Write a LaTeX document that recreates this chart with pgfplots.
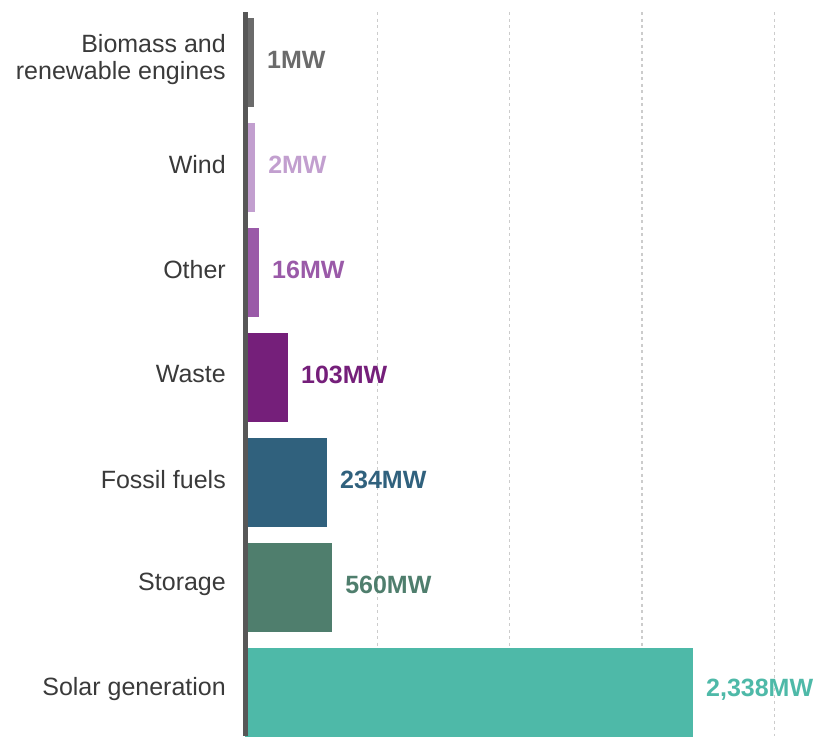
\documentclass[border=0pt]{standalone}
\usepackage{pgfplots}
\pgfplotsset{compat=1.18}
\usepackage{fontspec}
\setmainfont{Liberation Sans}
\definecolor{cbio}{HTML}{6B6B6B}
\definecolor{cwind}{HTML}{C29FCF}
\definecolor{cother}{HTML}{9A5AA8}
\definecolor{cwaste}{HTML}{751F7A}
\definecolor{cfossil}{HTML}{30617D}
\definecolor{cstor}{HTML}{4F7E6D}
\definecolor{csolar}{HTML}{4EB9A8}
\definecolor{caxis}{HTML}{575757}
\definecolor{cgrid}{HTML}{CCCCCC}
\definecolor{ctext}{HTML}{3A3A3A}
\begin{document}
\begin{tikzpicture}
\begin{axis}[
  name=ax,
  x=132.3pt, y=105pt,
  y dir=reverse,
  xmin=0, xmax=4.331,
  ymin=-0.481, ymax=6.414,
  axis line style={draw=none},
  xbar, bar width=89pt, bar shift=0pt,
  xtick={1,2,3,4},
  xticklabels={},
  xmajorgrids,
  major grid style={cgrid, line width=1.3pt, dash pattern=on 3pt off 3.5pt},
  ytick={0,1,2,3,4,5,6},
  yticklabels={{Biomass and\\renewable engines},Wind,Other,Waste,Fossil fuels,Storage,Solar generation},
  yticklabel style={inner sep=0pt, xshift=-19pt, yshift=3pt, align=right, text=ctext,
    font=\fontsize{25}{27}\selectfont},
  major tick length=0pt,
  tick style={draw=none},
  point meta=explicit symbolic,
  nodes near coords,
  nodes near coords style={anchor=west, inner sep=0pt, xshift=13pt, yshift=3pt,
    font=\fontsize{25}{28}\selectfont\bfseries},
  clip=false,
]
\addplot[fill=cbio, draw=none, nodes near coords style={text=cbio}] coordinates {(0.068,0) [1MW]};
\addplot[fill=cwind, draw=none, nodes near coords style={text=cwind}] coordinates {(0.076,1) [2MW]};
\addplot[fill=cother, draw=none, nodes near coords style={text=cother}] coordinates {(0.106,2) [16MW]};
\addplot[fill=cwaste, draw=none, nodes near coords style={text=cwaste}] coordinates {(0.325,3) [103MW]};
\addplot[fill=cfossil, draw=none, nodes near coords style={text=cfossil}] coordinates {(0.620,4) [234MW]};
\addplot[fill=cstor, draw=none, nodes near coords style={text=cstor}] coordinates {(0.658,5) [560MW]};
\addplot[fill=csolar, draw=none, nodes near coords style={text=csolar}] coordinates {(3.386,6) [{2,338MW}]};
\draw[line width=5pt, caxis] (axis cs:0,-0.481) -- (axis cs:0,6.414);
\end{axis}
\path ([xshift=-245pt]ax.south west) rectangle ([yshift=12pt]ax.north east);
\end{tikzpicture}
\end{document}
